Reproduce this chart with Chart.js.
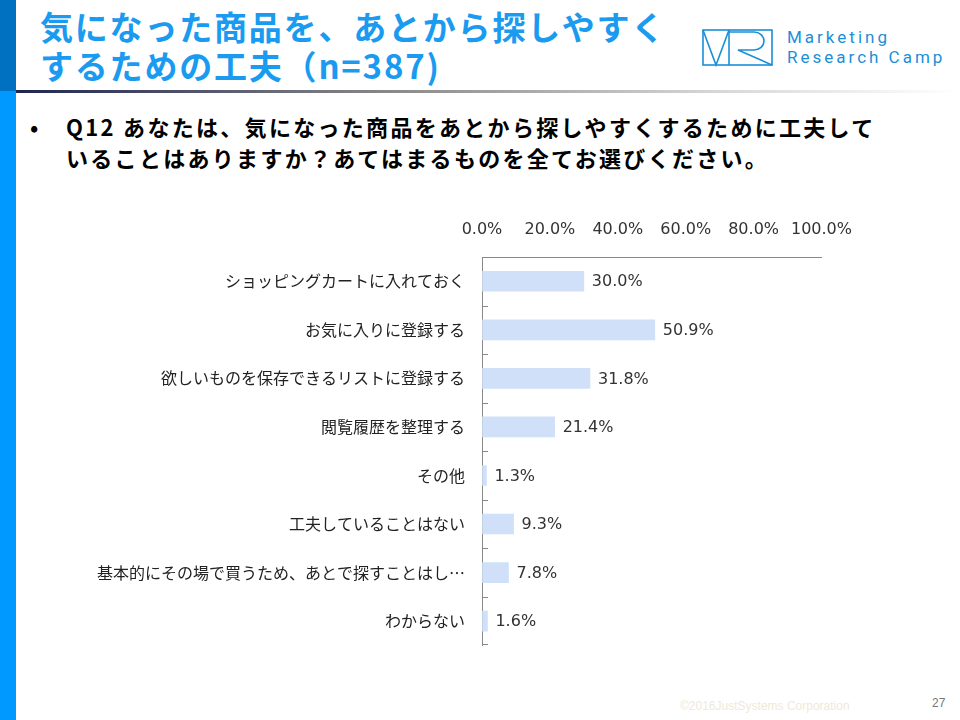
<!DOCTYPE html>
<html lang="ja">
<head>
<meta charset="utf-8">
<script src="https://cdn.jsdelivr.net/npm/chart.js@4.4.0/dist/chart.umd.min.js"></script>
<style>
  html, body { margin: 0; padding: 0; background: #fff; }
  body { width: 960px; height: 720px; position: relative; overflow: hidden; font-family: "Noto Sans CJK JP", "Noto Sans", sans-serif; }
  .strip-top { position: absolute; left: 0; top: 0; width: 16px; height: 91px; background: #0070c0; }
  .strip-bottom { position: absolute; left: 0; top: 91px; width: 16px; height: 629px; background: #0099ff; }
  .rule { position: absolute; left: 16px; top: 90px; width: 944px; height: 3px; background: linear-gradient(to right, #1f2550, #8a8a8a 40%, #d8d8d8 75%, #fff); }
  .title { position: absolute; left: 40px; top: 7px; color: #1a9bf0; font-weight: bold; font-size: 33px; line-height: 39px; letter-spacing: 1.8px; }
  .question { position: absolute; left: 66px; top: 111px; font-weight: bold; font-size: 22px; line-height: 31px; letter-spacing: 2.3px; color: #000; }
  .bullet { position: absolute; left: 30px; top: 111px; font-size: 22px; line-height: 31px; font-weight: bold; }
  .logo { position: absolute; left: 702px; top: 29px; }
  .logo-text { position: absolute; left: 787px; top: 27px; color: #1a8fd8; font-family: "Roboto", sans-serif; font-size: 17px; line-height: 20px; letter-spacing: 3px; }
  .copy { position: absolute; left: 680px; top: 699px; font-family: "Liberation Sans", sans-serif; font-size: 12px; color: #efe9d9; }
  .page { position: absolute; left: 932px; top: 696px; font-family: "Liberation Sans", sans-serif; font-size: 12px; color: #777; }
  #wrap { position: absolute; left: 60px; top: 210px; width: 810px; height: 454px; }
</style>
</head>
<body>
<div class="strip-top"></div>
<div class="strip-bottom"></div>
<div class="rule"></div>
<div class="title">気になった商品を、あとから探しやすく<br>するための工夫（n=387)</div>
<div class="bullet">•</div>
<div class="question">Q12 あなたは、気になった商品をあとから探しやすくするために工夫して<br>いることはありますか？あてはまるものを全てお選びください。</div>
<svg class="logo" width="72" height="38" viewBox="0 0 72 38">
  <g fill="none" stroke="#1a8fd8" stroke-width="1.6">
    <rect x="1" y="1" width="69" height="35"/>
    <polyline points="1,1 14,36 27,1"/>
    <line x1="27" y1="1" x2="27" y2="36"/>
    <path d="M27,3 H52 A10,9 0 0 1 52,21 H36 L70,36"/>
  </g>
</svg>
<div class="logo-text">Marketing<br>Research Camp</div>
<div class="copy">©2016JustSystems Corporation</div>
<div class="page">27</div>
<div id="wrap"><canvas id="chart"></canvas></div>
<script>
  const categories = [
    "ショッピングカートに入れておく",
    "お気に入りに登録する",
    "欲しいものを保存できるリストに登録する",
    "閲覧履歴を整理する",
    "その他",
    "工夫していることはない",
    "基本的にその場で買うため、あとで探すことはし…",
    "わからない"
  ];
  const shares = [30.0, 50.9, 31.8, 21.4, 1.3, 9.3, 7.8, 1.6];
  const xTicks = [0, 20, 40, 60, 80, 100];

  const labelFont = { family: "'Noto Sans CJK JP', 'Noto Sans', sans-serif", size: 16 };
  const numberFont = { family: "'DejaVu Sans', sans-serif", size: 16 };

  // value labels at the end of each bar
  const valueLabels = {
    id: "valueLabels",
    afterDatasetsDraw(chart) {
      const ctx = chart.ctx;
      const meta = chart.getDatasetMeta(0);
      ctx.save();
      ctx.font = "16px 'DejaVu Sans', sans-serif";
      ctx.fillStyle = "#333";
      ctx.textAlign = "left";
      ctx.textBaseline = "middle";
      meta.data.forEach((bar, i) => {
        ctx.fillText(shares[i].toFixed(1) + "%", bar.x + 8, bar.y + 1);
      });
      ctx.restore();
    }
  };

  // short tick marks on the inside of the category axis, between categories
  const innerTicks = {
    id: "innerTicks",
    afterDraw(chart) {
      const y = chart.scales.y;
      const ctx = chart.ctx;
      const x0 = chart.chartArea.left;
      ctx.save();
      ctx.strokeStyle = "#888";
      ctx.lineWidth = 1;
      ctx.beginPath();
      for (let i = 0; i < categories.length; i++) {
        const yy = Math.round((y.getPixelForValue(i) + y.getPixelForValue(i + 1)) / 2) + 0.5;
        const pos = i === categories.length - 1 ? Math.round(chart.chartArea.bottom) - 0.5 : yy;
        ctx.moveTo(x0, pos);
        ctx.lineTo(x0 + 6, pos);
      }
      ctx.stroke();
      ctx.restore();
    }
  };

  new Chart(document.getElementById("chart"), {
    type: "bar",
    data: {
      labels: categories,
      datasets: [{
        data: shares,
        backgroundColor: "#cfe0f8",
        borderWidth: 0,
        barThickness: 20
      }]
    },
    options: {
      indexAxis: "y",
      responsive: true,
      maintainAspectRatio: false,
      animation: false,
      layout: { padding: { top: 0, right: 15, bottom: 0, left: 0 } },
      plugins: { legend: { display: false }, tooltip: { enabled: false } },
      scales: {
        x: {
          position: "top",
          min: 0,
          max: 100,
          afterBuildTicks(scale) { scale.ticks = xTicks.map(v => ({ value: v })); },
          afterFit(scale) { scale.height = 47; },
          ticks: {
            color: "#333",
            font: numberFont,
            padding: 18,
            maxRotation: 0,
            callback: v => v.toFixed(1) + "%"
          },
          grid: { display: true, drawOnChartArea: false, drawTicks: false },
          border: { display: true, color: "#888", width: 1 }
        },
        y: {
          afterFit(scale) { scale.width = 422; },
          ticks: { color: "#222", font: labelFont, padding: 9, autoSkip: false },
          grid: { display: false },
          border: { display: true, color: "#888", width: 1 }
        }
      }
    },
    plugins: [valueLabels, innerTicks]
  });
</script>
</body>
</html>
